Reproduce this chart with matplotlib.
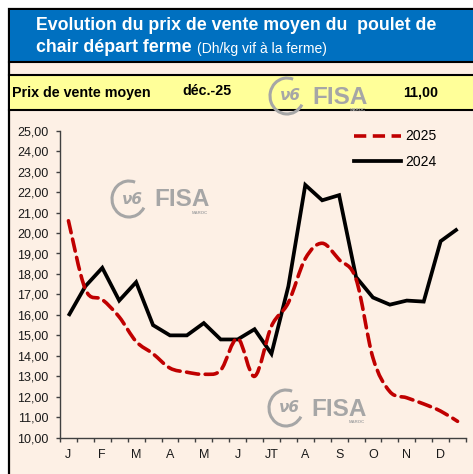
import matplotlib
matplotlib.use("Agg")
import matplotlib.pyplot as plt
from matplotlib.patches import Rectangle, Arc, PathPatch
from matplotlib.path import Path
from matplotlib.lines import Line2D
import numpy as np

plt.rcParams['font.family'] = ['Liberation Sans', 'DejaVu Sans']

# ---------------- data ----------------
month_labels = ["J", "F", "M", "A", "M", "J", "JT", "A", "S", "O", "N", "D"]
periods = list(range(24))  # two half-month periods per month
prix_2025 = [20.6, 17.25, 16.75, 15.9, 14.7, 14.1, 13.4, 13.2, 13.1, 13.3, 14.85, 13.0,
             15.45, 16.6, 18.75, 19.5, 18.7, 17.75, 13.9, 12.25, 11.95, 11.65, 11.3, 10.8]
prix_2024 = [15.95, 17.4, 18.3, 16.7, 17.6, 15.5, 15.0, 15.0, 15.6, 14.8, 14.8, 15.3,
             14.1, 17.4, 22.35, 21.6, 21.85, 17.85, 16.85, 16.5, 16.7, 16.65, 19.6, 20.2]
y_ticks = [10, 11, 12, 13, 14, 15, 16, 17, 18, 19, 20, 21, 22, 23, 24, 25]
series_names = ["2025", "2024"]
header_title_1 = "Evolution du prix de vente moyen du  poulet de"
header_title_2 = "chair départ ferme"
header_sub = "(Dh/kg vif à la ferme)"
band_label = "Prix de vente moyen"
band_month = "déc.-25"
band_value = "11,00"

W, H = 473, 474
PEACH = "#FDF0E5"
BLUE = "#0070C0"
YELLOW = "#FFFF99"
RED = "#C00000"
LOGO_GRAY = "#A6A6A6"

fig = plt.figure(figsize=(W / 100, H / 100), dpi=100)
fig.patch.set_facecolor("white")

def fx(x):
    return x / W

def fy(y):
    return 1 - y / H

def frect(x0, y0, x1, y1, z, **kw):
    r = Rectangle((fx(x0), fy(y1)), fx(x1) - fx(x0), fy(y0) - fy(y1),
                  transform=fig.transFigure, zorder=z, **kw)
    fig.patches.append(r)
    return r

# outer frame + background
frect(9, 9, W + 10, H + 10, -2, facecolor=PEACH, edgecolor="black", linewidth=1.6)
# blue header
frect(10, 10, W + 5, 62, -1, facecolor=BLUE, edgecolor="none")
# yellow band
frect(10, 74.5, W + 5, 110, -1, facecolor=YELLOW, edgecolor="none")
for yy in (62, 74.5, 110):
    fig.add_artist(Line2D([fx(9), fx(W + 5)], [fy(yy), fy(yy)], transform=fig.transFigure,
                          color="black", linewidth=1.5, zorder=-0.5))

# header texts
fig.text(fx(36), fy(30.5), header_title_1, color="white", fontsize=12.8, fontweight="bold",
         va="baseline", ha="left")
fig.text(fx(36), fy(52.5), header_title_2, color="white", fontsize=12.8, fontweight="bold",
         va="baseline", ha="left")
fig.text(fx(197), fy(52.5), header_sub, color="white", fontsize=10.0,
         va="baseline", ha="left")

# band texts
fig.text(fx(12), fy(97), band_label, color="black", fontsize=10.3, fontweight="bold",
         va="baseline", ha="left")
fig.text(fx(182), fy(95), band_month, color="black", fontsize=10.3, fontweight="bold",
         va="baseline", ha="left")
fig.text(fx(403), fy(96.5), band_value, color="black", fontsize=10.3, fontweight="bold",
         va="baseline", ha="left")

# logos (FISA watermark)
def logo(x0, ycen):
    arc = Arc((fx(x0 + 17), fy(ycen)), 34 / W, 36 / H, theta1=70, theta2=330,
              transform=fig.transFigure, color=LOGO_GRAY, linewidth=2.2, zorder=1)
    fig.add_artist(arc)
    fig.text(fx(x0 + 20), fy(ycen), "ν6", color=LOGO_GRAY, fontsize=11, fontstyle="italic",
             fontweight="bold", ha="center", va="center", family="DejaVu Sans", zorder=1)
    fig.text(fx(x0 + 42), fy(ycen + 1), "FISA", color=LOGO_GRAY, fontsize=17.5, fontweight="bold",
             ha="left", va="center", zorder=1)
    fig.text(fx(x0 + 96), fy(ycen + 14), "MAROC", color=LOGO_GRAY, fontsize=3.2,
             fontweight="bold", ha="right", va="center", zorder=1)

logo(270, 96)
logo(112, 199)
logo(269, 408)

# ---------------- chart ----------------
ax_left, ax_right, ax_top, ax_bottom = 60, 466, 130.7, 437.7
ax = fig.add_axes([fx(ax_left), fy(ax_bottom), fx(ax_right) - fx(ax_left),
                   fy(ax_top) - fy(ax_bottom)])
ax.set_zorder(2)
ax.patch.set_visible(False)
ax.set_xlim(-0.5, 23.5)
ax.set_ylim(10, 25)
for s in ("top", "right"):
    ax.spines[s].set_visible(False)
for s in ("left", "bottom"):
    ax.spines[s].set_color("#404040")
    ax.spines[s].set_linewidth(1.0)

ax.set_yticks(y_ticks)
ax.set_yticklabels([f"{v:.2f}".replace(".", ",") for v in y_ticks])
ax.tick_params(axis="y", length=3, width=1, color="#404040", pad=5.5, labelsize=9,
               labelcolor="#1a1a1a")
ax.set_xticks(np.arange(-0.5, 24, 1.0))
ax.set_xticklabels([])
ax.tick_params(axis="x", which="major", length=3, width=1, color="#404040")
ax.set_xticks(np.arange(0, 24, 2), minor=True)
ax.set_xticklabels(month_labels, minor=True)
ax.tick_params(axis="x", which="minor", length=0, pad=8.3, labelsize=9, labelcolor="#1a1a1a")

# black 2024 line (straight segments)
ax.plot(periods, prix_2024, color="black", linewidth=2.7, solid_joinstyle="miter",
        solid_capstyle="butt", zorder=4)

# red 2025 smoothed line (Bezier path through the data points, Excel-style)
px = np.array(periods, dtype=float)
py = np.array(prix_2025, dtype=float)
verts = [(px[0], py[0])]
codes = [Path.MOVETO]
n = len(px)
for i in range(n - 1):
    p0 = (px[max(i - 1, 0)], py[max(i - 1, 0)])
    p1 = (px[i], py[i])
    p2 = (px[i + 1], py[i + 1])
    p3 = (px[min(i + 2, n - 1)], py[min(i + 2, n - 1)])
    c1 = (p1[0] + (p2[0] - p0[0]) / 6, p1[1] + (p2[1] - p0[1]) / 6)
    c2 = (p2[0] - (p3[0] - p1[0]) / 6, p2[1] - (p3[1] - p1[1]) / 6)
    verts += [c1, c2, p2]
    codes += [Path.CURVE4] * 3
red_patch = PathPatch(Path(verts, codes), facecolor="none", edgecolor=RED, linewidth=2.6,
                      linestyle=(0, (3.4, 1.8)), capstyle="round", zorder=5)
ax.add_patch(red_patch)

handles = [Line2D([], [], color=RED, linewidth=2.6, linestyle=(0, (3.4, 1.8))),
           Line2D([], [], color="black", linewidth=2.7)]
leg = fig.legend(handles, series_names, loc="upper left",
                 bbox_to_anchor=(fx(354), fy(129.5)), frameon=False, fontsize=10,
                 handlelength=3.4, handletextpad=0.3, labelspacing=0.85, borderpad=0,
                 borderaxespad=0)
leg.set_zorder(3)

fig.savefig("out.png", dpi=100, facecolor="white")
